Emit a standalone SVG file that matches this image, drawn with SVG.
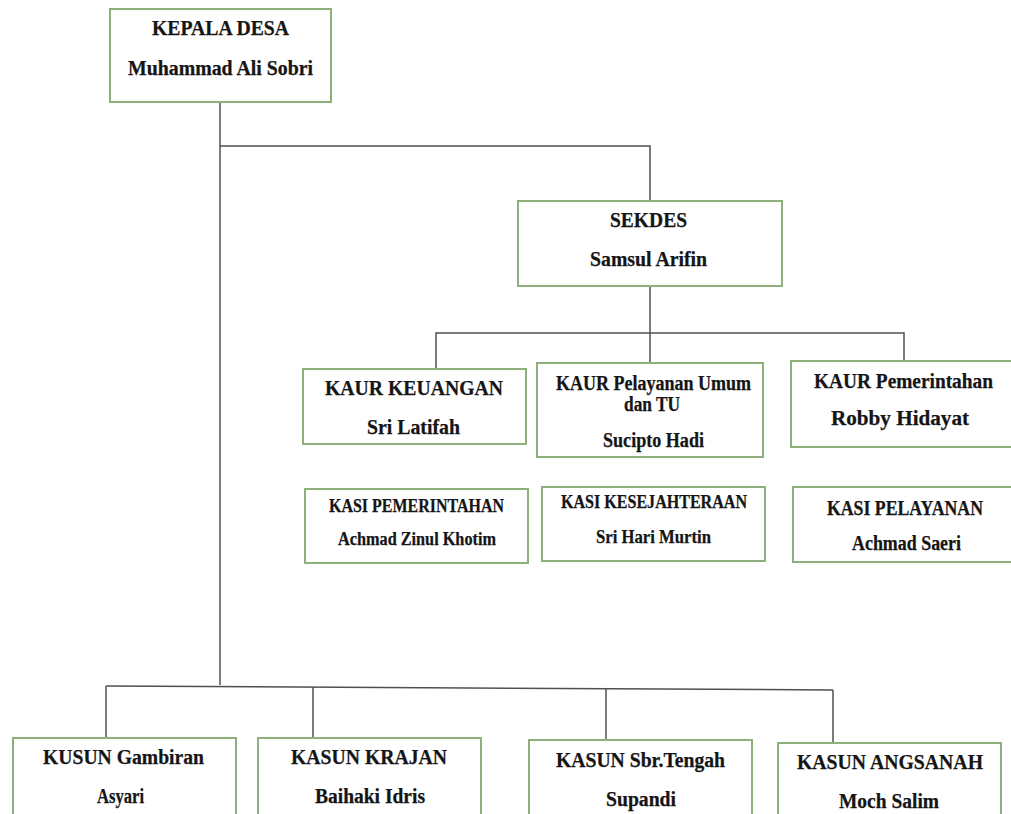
<svg xmlns="http://www.w3.org/2000/svg" width="1011" height="814" viewBox="0 0 1011 814">
<style>
  .box { fill: #ffffff; stroke: #8fb07a; stroke-width: 2; }
  .t { font-family: "Liberation Serif", "Times New Roman", serif; font-weight: bold; fill: #151515; stroke: #151515; stroke-width: 0.25; text-anchor: middle; }
  .f16 { font-size: 18.5px; }
  .f17 { font-size: 20px; }
  .f18 { font-size: 20.5px; }
  .f19 { font-size: 21.5px; }
  .conn { stroke: #505050; stroke-width: 1.5; fill: none; }
</style>
<rect x="0" y="0" width="1011" height="814" fill="#ffffff"/>
<g id="connectors">
  <path class="conn" d="M220 102 V685"/>
  <path class="conn" d="M220 146 H650 V201"/>
  <path class="conn" d="M650 286 V363"/>
  <path class="conn" d="M436 369 V333 H904 V361"/>
  <path class="conn" d="M106 686 L833 690"/>
  <path class="conn" d="M106 686 V738"/>
  <path class="conn" d="M313 687 V738"/>
  <path class="conn" d="M606 688 V740"/>
  <path class="conn" d="M833 690 V743"/>
</g>
<g id="kepala-desa">
  <rect class="box" x="110" y="9" width="221" height="93"/>
  <text class="t f18" x="220.5" y="35" textLength="137" lengthAdjust="spacingAndGlyphs">KEPALA DESA</text>
  <text class="t f18" x="220.5" y="75" textLength="185" lengthAdjust="spacingAndGlyphs">Muhammad Ali Sobri</text>
</g>
<g id="sekdes">
  <rect class="box" x="518" y="201" width="264" height="85"/>
  <text class="t f18" x="648.5" y="227" textLength="77" lengthAdjust="spacingAndGlyphs">SEKDES</text>
  <text class="t f19" x="648.5" y="266" textLength="117" lengthAdjust="spacingAndGlyphs">Samsul Arifin</text>
</g>
<g id="kaur-keuangan">
  <rect class="box" x="303" y="369" width="223" height="75"/>
  <text class="t f19" x="414" y="395" textLength="178" lengthAdjust="spacingAndGlyphs">KAUR KEUANGAN</text>
  <text class="t f19" x="413.5" y="434" textLength="93" lengthAdjust="spacingAndGlyphs">Sri Latifah</text>
</g>
<g id="kaur-pelayanan">
  <rect class="box" x="537" y="363" width="226" height="94"/>
  <text class="t f17" x="653.5" y="390" textLength="195" lengthAdjust="spacingAndGlyphs">KAUR Pelayanan Umum</text>
  <text class="t f17" x="652" y="411" textLength="56" lengthAdjust="spacingAndGlyphs">dan TU</text>
  <text class="t f17" x="653.5" y="447" textLength="101" lengthAdjust="spacingAndGlyphs">Sucipto Hadi</text>
</g>
<g id="kaur-pemerintahan">
  <rect class="box" x="791" y="361" width="226" height="86"/>
  <text class="t f19" x="903.5" y="388" textLength="179" lengthAdjust="spacingAndGlyphs">KAUR Pemerintahan</text>
  <text class="t f19" x="900" y="425" textLength="138" lengthAdjust="spacingAndGlyphs">Robby Hidayat</text>
</g>
<g id="kasi-pemerintahan">
  <rect class="box" x="305" y="489" width="223" height="74"/>
  <text class="t f16" x="416.5" y="512" textLength="175" lengthAdjust="spacingAndGlyphs">KASI PEMERINTAHAN</text>
  <text class="t f16" x="417" y="545" textLength="158" lengthAdjust="spacingAndGlyphs">Achmad Zinul Khotim</text>
</g>
<g id="kasi-kesejahteraan">
  <rect class="box" x="542" y="487" width="223" height="74"/>
  <text class="t f16" x="654" y="508" textLength="186" lengthAdjust="spacingAndGlyphs">KASI KESEJAHTERAAN</text>
  <text class="t f16" x="653.5" y="543" textLength="115" lengthAdjust="spacingAndGlyphs">Sri Hari Murtin</text>
</g>
<g id="kasi-pelayanan">
  <rect class="box" x="793" y="487" width="224" height="75"/>
  <text class="t f17" x="905" y="515" textLength="156" lengthAdjust="spacingAndGlyphs">KASI PELAYANAN</text>
  <text class="t f17" x="906.5" y="550" textLength="109" lengthAdjust="spacingAndGlyphs">Achmad Saeri</text>
</g>
<g id="kusun-gambiran">
  <rect class="box" x="13" y="738" width="223" height="90"/>
  <text class="t f18" x="123.5" y="764" textLength="161" lengthAdjust="spacingAndGlyphs">KUSUN Gambiran</text>
  <text class="t f18" x="120.5" y="803" textLength="47" lengthAdjust="spacingAndGlyphs">Asyari</text>
</g>
<g id="kasun-krajan">
  <rect class="box" x="258" y="738" width="223" height="90"/>
  <text class="t f18" x="369" y="764" textLength="156" lengthAdjust="spacingAndGlyphs">KASUN KRAJAN</text>
  <text class="t f18" x="370" y="803" textLength="110" lengthAdjust="spacingAndGlyphs">Baihaki Idris</text>
</g>
<g id="kasun-sbr-tengah">
  <rect class="box" x="529" y="740" width="223" height="90"/>
  <text class="t f18" x="640.5" y="767" textLength="169" lengthAdjust="spacingAndGlyphs">KASUN Sbr.Tengah</text>
  <text class="t f18" x="641" y="806" textLength="70" lengthAdjust="spacingAndGlyphs">Supandi</text>
</g>
<g id="kasun-angsanah">
  <rect class="box" x="778" y="743" width="223" height="90"/>
  <text class="t f18" x="890" y="769" textLength="186" lengthAdjust="spacingAndGlyphs">KASUN ANGSANAH</text>
  <text class="t f18" x="889" y="808" textLength="100" lengthAdjust="spacingAndGlyphs">Moch Salim</text>
</g>
</svg>
